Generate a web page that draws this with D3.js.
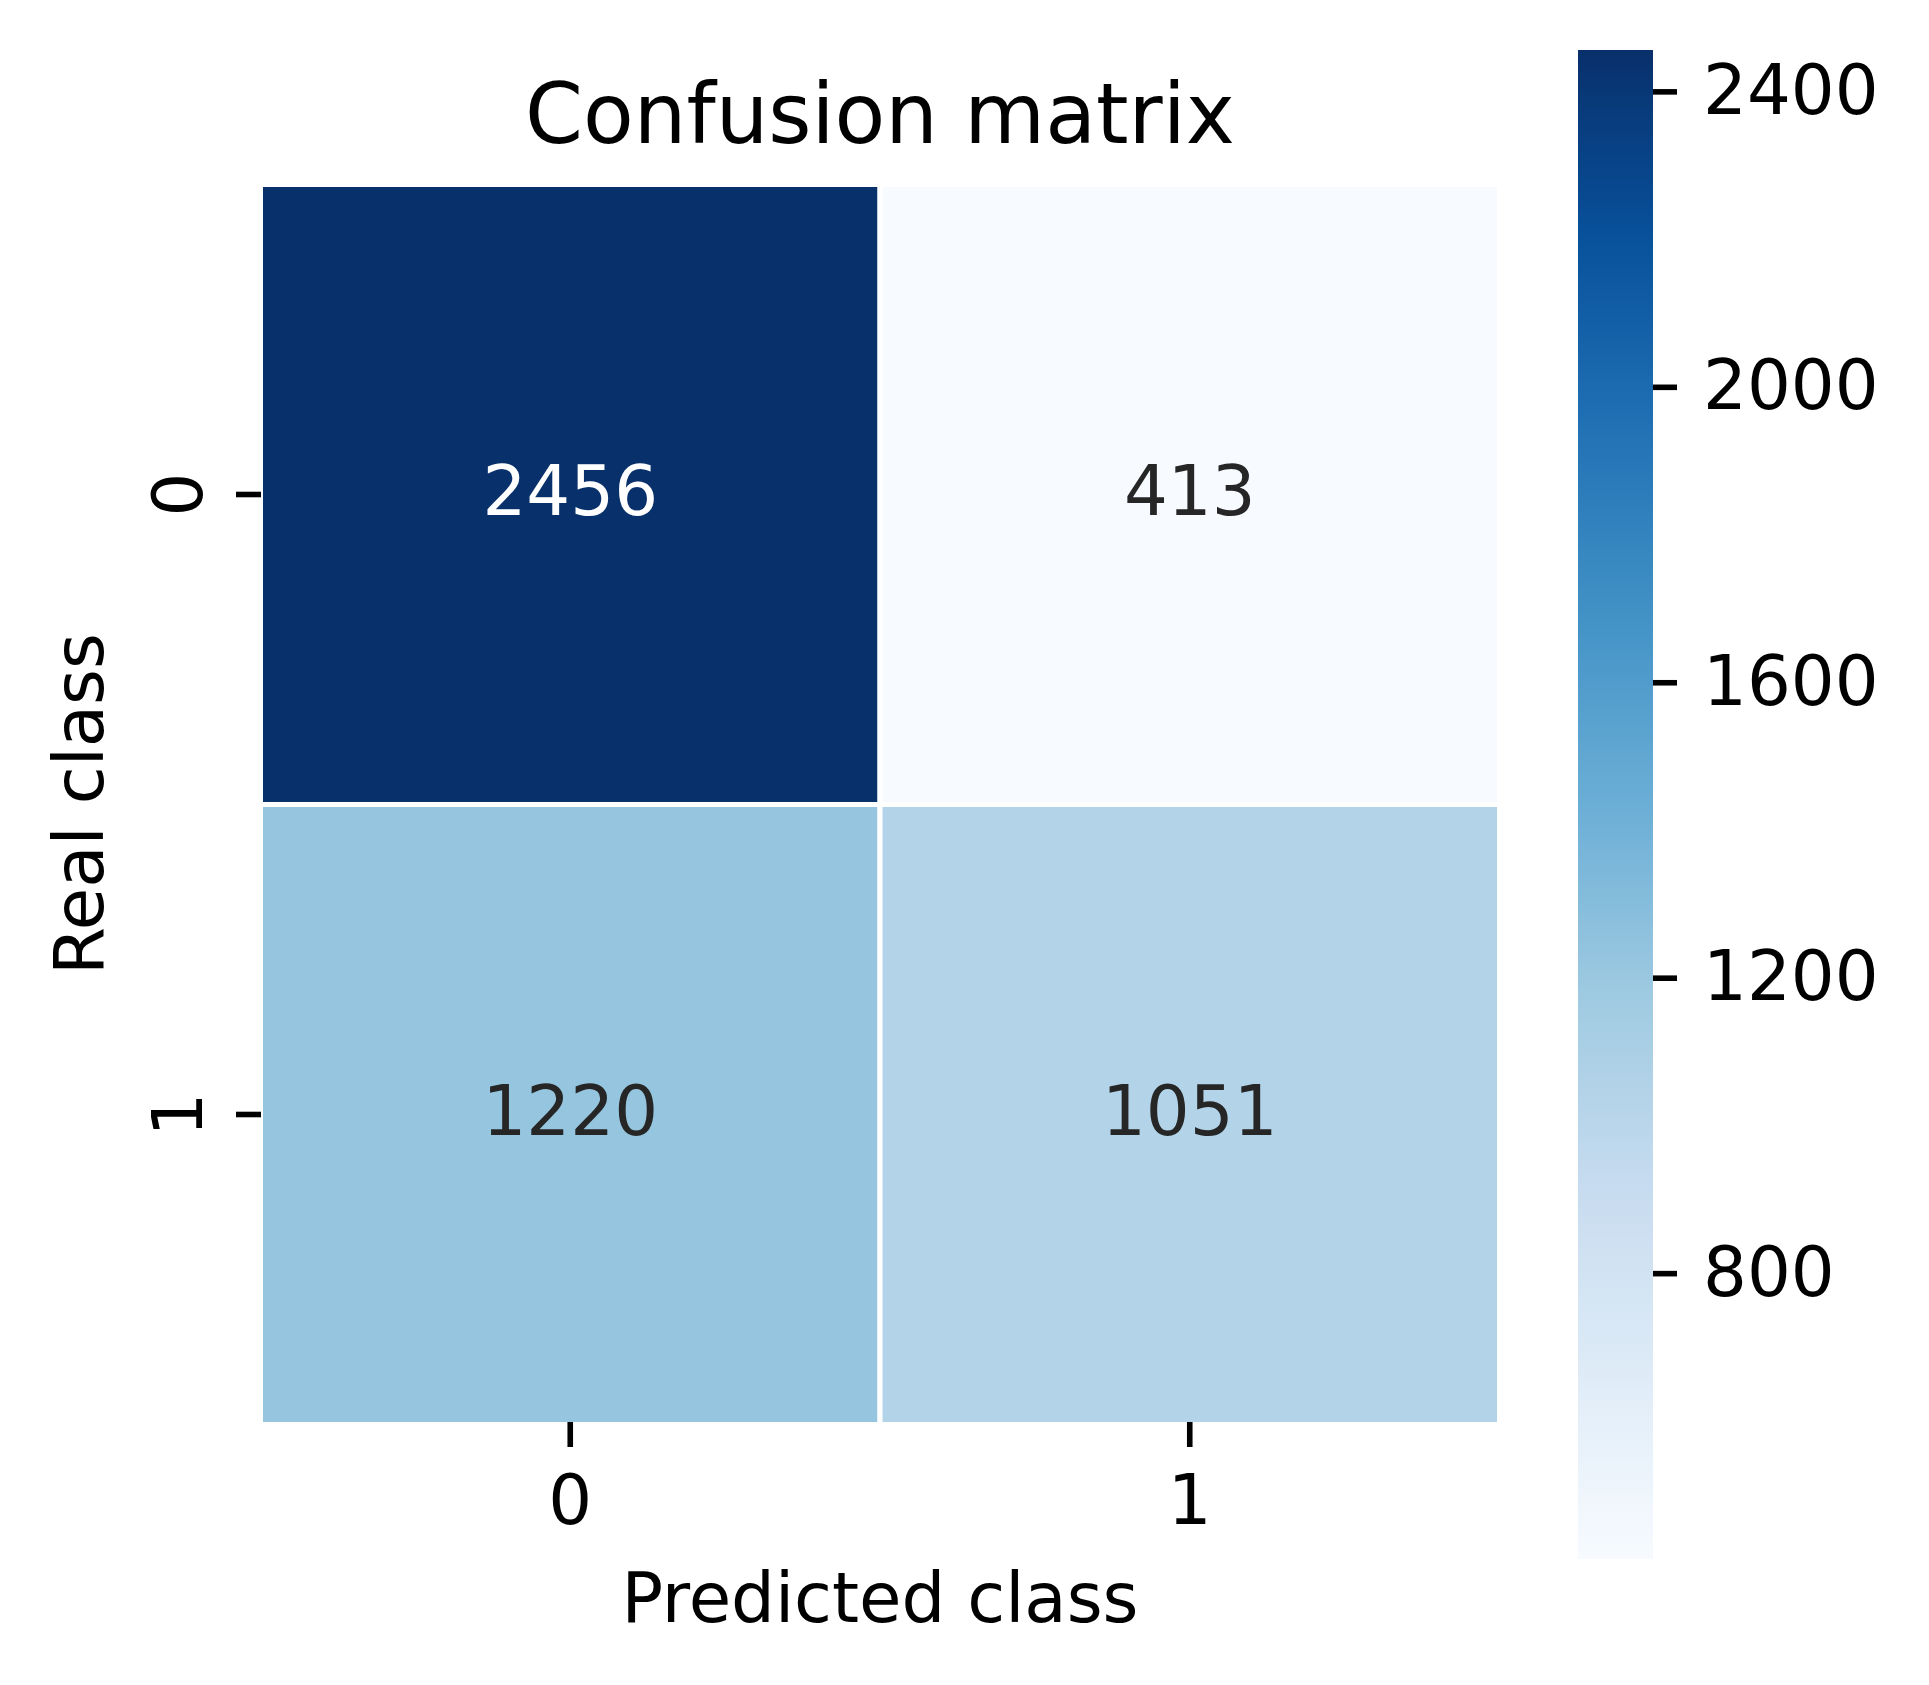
<!DOCTYPE html>
<html>
<head>
<meta charset="utf-8">
<script src="https://cdn.jsdelivr.net/npm/d3@7"></script>
<style>
  html, body { margin: 0; padding: 0; background: #fff; }
  svg text { font-family: "DejaVu Sans", sans-serif; }
</style>
</head>
<body>
<svg id="chart" width="1929" height="1685"></svg>
<script>
// confusion matrix values
var realClasses = ["0", "1"];
var predClasses = ["0", "1"];
var row0 = [2456, 413];
var row1 = [1220, 1051];
var cbTicks = [800, 1200, 1600, 2000, 2400];
// matplotlib "Blues" anchors
var blues = ["#f7fbff", "#deebf7", "#c6dbef", "#9ecae1", "#6baed6",
             "#4292c6", "#2171b5", "#08519c", "#08306b"];

var rows = [row0, row1];
var cells = [];
rows.forEach(function(r, i) {
  r.forEach(function(v, j) {
    cells.push({ real: realClasses[i], pred: predClasses[j], value: v });
  });
});

var vmin = d3.min(cells, function(d) { return d.value; });
var vmax = d3.max(cells, function(d) { return d.value; });

var color = d3.scaleLinear()
  .domain(blues.map(function(c, i) { return vmin + (vmax - vmin) * i / (blues.length - 1); }))
  .range(blues)
  .interpolate(d3.interpolateRgb);

var svg = d3.select("#chart");

// white cell borders eat half the line on the outer edge too
var x = d3.scaleBand().domain(predClasses).range([260.5, 1499.5]);
var y = d3.scaleBand().domain(realClasses).range([184.5, 1424.5]);

// cells
svg.append("g").selectAll("rect")
  .data(cells)
  .enter().append("rect")
  .attr("x", function(d) { return x(d.pred); })
  .attr("y", function(d) { return y(d.real); })
  .attr("width", x.bandwidth())
  .attr("height", y.bandwidth())
  .attr("fill", function(d) { return color(d.value); })
  .attr("stroke", "#fff")
  .attr("stroke-width", 5);

// annotations
svg.append("g").selectAll("text")
  .data(cells)
  .enter().append("text")
  .attr("x", function(d) { return x(d.pred) + x.bandwidth() / 2; })
  .attr("y", function(d) { return y(d.real) + y.bandwidth() / 2 + 20; })
  .attr("text-anchor", "middle")
  .attr("font-size", 69)
  .attr("fill", function(d) { return (d.value - vmin) / (vmax - vmin) > 0.6 ? "#ffffff" : "#262626"; })
  .text(function(d) { return d.value; });

// x axis
var xAxis = svg.append("g")
  .attr("transform", "translate(0,1422)")
  .call(d3.axisBottom(x).tickSize(25).tickPadding(28));
xAxis.select(".domain").remove();
xAxis.selectAll("line").attr("stroke", "#000").attr("stroke-width", 5.6);
xAxis.selectAll("text").attr("font-size", 69).attr("fill", "#000").attr("dy", "0.71em");

// y axis (rotated labels)
var yAxis = svg.append("g")
  .attr("transform", "translate(261,0)")
  .call(d3.axisLeft(y).tickSize(25).tickPadding(0));
yAxis.select(".domain").remove();
yAxis.selectAll("line").attr("stroke", "#000").attr("stroke-width", 5.6);
yAxis.selectAll("text").remove();
svg.append("g").selectAll("text")
  .data(realClasses)
  .enter().append("text")
  .attr("transform", function(d) { return "translate(202," + (y(d) + y.bandwidth() / 2) + ") rotate(-90)"; })
  .attr("text-anchor", "middle")
  .attr("font-size", 69)
  .attr("fill", "#000")
  .text(function(d) { return d; });

// titles
svg.append("text")
  .attr("x", 880).attr("y", 143)
  .attr("text-anchor", "middle")
  .attr("font-size", 83)
  .attr("fill", "#000")
  .text("Confusion matrix");

svg.append("text")
  .attr("x", 880).attr("y", 1622)
  .attr("text-anchor", "middle")
  .attr("font-size", 69)
  .attr("fill", "#000")
  .text("Predicted class");

svg.append("text")
  .attr("transform", "translate(103,804) rotate(-90)")
  .attr("text-anchor", "middle")
  .attr("font-size", 69)
  .attr("fill", "#000")
  .text("Real class");

// colorbar
var cbX = 1578, cbW = 75, cbTop = 50, cbBottom = 1559;
var cbScale = d3.scaleLinear().domain([vmin, vmax]).range([cbBottom, cbTop]);

var grad = svg.append("defs").append("linearGradient")
  .attr("id", "cbgrad")
  .attr("x1", 0).attr("y1", 1).attr("x2", 0).attr("y2", 0);
grad.selectAll("stop")
  .data(d3.range(0, 1.0001, 0.02))
  .enter().append("stop")
  .attr("offset", function(t) { return t; })
  .attr("stop-color", function(t) { return color(vmin + t * (vmax - vmin)); });

svg.append("rect")
  .attr("x", cbX).attr("y", cbTop)
  .attr("width", cbW).attr("height", cbBottom - cbTop)
  .attr("fill", "url(#cbgrad)");

var cbAxis = svg.append("g")
  .attr("transform", "translate(" + (cbX + cbW) + ",0)")
  .call(d3.axisRight(cbScale).tickValues(cbTicks).tickFormat(d3.format("d"))
    .tickSize(24).tickPadding(26));
cbAxis.select(".domain").remove();
cbAxis.selectAll("line").attr("stroke", "#000").attr("stroke-width", 5.6);
cbAxis.selectAll("text").attr("font-size", 69).attr("fill", "#000");
</script>
</body>
</html>
